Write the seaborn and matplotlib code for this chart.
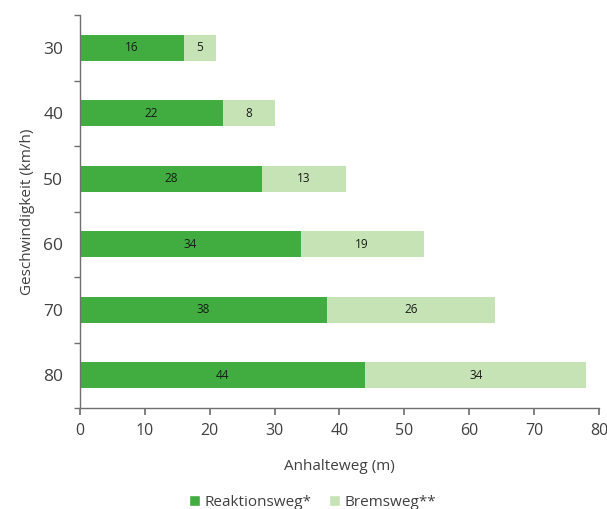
import matplotlib
matplotlib.use("Agg")
import matplotlib.pyplot as plt
import seaborn as sns
import pandas as pd
import numpy as np
from matplotlib.patches import Patch
from matplotlib.ticker import FixedLocator

speeds = ["30", "40", "50", "60", "70", "80"]
reaktionsweg = [16, 22, 28, 34, 38, 44]
bremsweg = [5, 8, 13, 19, 26, 34]
x_ticks = [0, 10, 20, 30, 40, 50, 60, 70, 80]

dark = "#41ad41"
light = "#c6e3b6"
text_col = "#404040"
axis_col = "#707070"

sns.set_theme(style="white")
plt.rcParams['font.family'] = ['Open Sans', 'DejaVu Sans']

df = pd.DataFrame({"speed": speeds, "reaktion": reaktionsweg, "brems": bremsweg})
df["total"] = df["reaktion"] + df["brems"]

fig = plt.figure(figsize=(6.07, 5.09), dpi=100)
ax = fig.add_axes([0.1318, 0.1984, 0.855, 0.772])

sns.barplot(data=df, y="speed", x="total", order=speeds, color=light, orient="h",
            width=0.4, saturation=1, ax=ax, edgecolor="none")
sns.barplot(data=df, y="speed", x="reaktion", order=speeds, color=dark, orient="h",
            width=0.4, saturation=1, ax=ax, edgecolor="none")

for i, (r, b) in enumerate(zip(reaktionsweg, bremsweg)):
    ax.text(r / 2, i, str(r), ha="center", va="center", fontsize=8.5, color="#1a1a1a")
    ax.text(r + b / 2, i, str(b), ha="center", va="center", fontsize=8.5, color="#1a1a1a")

ax.set_xlim(0, 80)
ax.set_ylim(len(speeds) - 0.5, -0.5)
ax.set_xticks(x_ticks)
ax.set_xticklabels([str(t) for t in x_ticks], fontsize=11.5, color=text_col)
ax.set_yticklabels(speeds, fontsize=12.5, color=text_col)
ax.yaxis.set_minor_locator(FixedLocator(np.arange(-0.5, len(speeds), 1.0)))
ax.tick_params(axis="y", which="major", length=0, pad=12)
ax.tick_params(axis="y", which="minor", length=4, direction="out", color=axis_col, left=True)
ax.tick_params(axis="x", which="major", length=5, direction="out", color=axis_col, bottom=True, pad=6)

for s in ["top", "right"]:
    ax.spines[s].set_visible(False)
for s in ["left", "bottom"]:
    ax.spines[s].set_color(axis_col)
    ax.spines[s].set_linewidth(1.0)

ax.set_xlabel("Anhalteweg (m)", fontsize=11, color=text_col, labelpad=14)
ax.set_ylabel("Geschwindigkeit (km/h)", fontsize=11, color=text_col, labelpad=6)

handles = [Patch(facecolor=dark, label="Reaktionsweg*"), Patch(facecolor=light, label="Bremsweg**")]
fig.legend(handles=handles, loc="center", bbox_to_anchor=(0.515, 0.013), ncol=2, frameon=False,
           fontsize=11, handlelength=0.7, handleheight=0.7, handletextpad=0.3, columnspacing=1.2,
           labelcolor=text_col)

fig.savefig("out.png", dpi=100)
